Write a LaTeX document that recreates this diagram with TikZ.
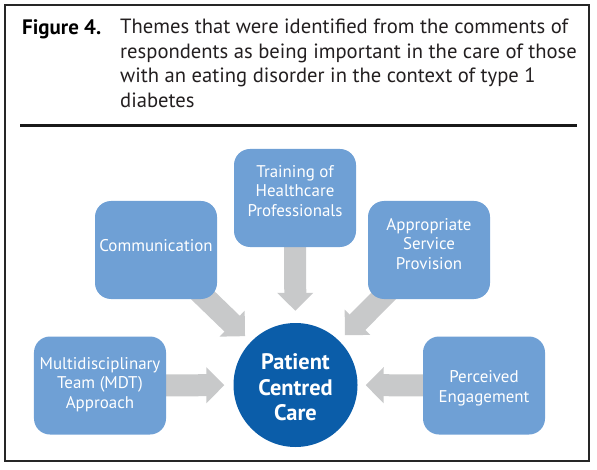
\documentclass[tikz,border=0pt]{standalone}
\usepackage{fontspec}
\setmainfont{PT Sans}
\usetikzlibrary{arrows.meta,backgrounds}
\definecolor{boxblue}{HTML}{6FA0D5}
\definecolor{circblue}{HTML}{0B5DA9}
\definecolor{arrgray}{HTML}{C8C9CA}
\definecolor{captxt}{HTML}{231F20}
\newcommand{\liftlines}[2]{\raisebox{#1}[\height][\depth]{\begin{tabular}{@{}c@{}}#2\end{tabular}}}
\tikzset{
  theme/.style={fill=boxblue, rounded corners=16bp, minimum width=122bp, minimum height=98bp,
    text=white, font=\fontsize{17}{19.7}\selectfont, inner sep=0pt},
  hub/.style={circle, fill=circblue, minimum size=124bp, text=white,
    font=\bfseries\fontsize{22.5}{25.5}\selectfont, inner sep=0pt},
  blockarrow/.style={draw=arrgray, line width=22bp,
    -{Triangle[width=35bp,length=18bp]}, arrgray},
  caption/.style={inner sep=0pt, text=captxt, font=\fontsize{20.7}{24.5}\selectfont}
}
\begin{document}
\begin{tikzpicture}[x=1bp,y=-1bp]
\useasboundingbox (0,0) rectangle (597,470);
\draw[line width=1.3bp, draw=black!85] (5,5) rectangle (589,461);
\node[caption, anchor=base west, font=\bfseries\fontsize{21}{24.5}\selectfont, text=black] (fig) at (22,35) {Figure 4.};
\node[caption, align=left, anchor=north west] (cap) at (120,19) {Themes that were identified from the comments of\\respondents as being important in the care of those\\with an eating disorder in the context of type 1\\diabetes};
\draw[line width=3bp, draw=black!90] (20,125.3) coordinate (r1) -- (577,125.3) coordinate (r2);

\node[theme] (comm) at (156,250) {\liftlines{2bp}{Communication}};
\node[theme] (train) at (295,198) {\liftlines{5bp}{Training of\\Healthcare\\Professionals}};
\node[theme] (appr) at (429,250) {\liftlines{4bp}{Appropriate\\Service\\Provision}};
\node[theme, minimum width=132bp] (mdt) at (100,385.5) {\liftlines{0.5bp}{Multidisciplinary\\Team (MDT)\\Approach}};
\node[theme] (perc) at (484,385.5) {\liftlines{-3bp}{Perceived\\Engagement}};
\node[hub] (pcc) at (295.5,385) {\liftlines{-5bp}{Patient\\Centred\\Care}};

\begin{scope}[on background layer]
\draw[blockarrow, shorten >=8bp] (comm.center) -- (pcc);
\draw[blockarrow, shorten >=8bp] (appr.center) -- (pcc);
\draw[blockarrow, shorten >=12bp] (train.center) -- (pcc);
\draw[blockarrow, shorten >=9bp] (mdt.center) -- (pcc);
\draw[blockarrow, shorten >=8bp] (perc.center) -- (pcc);
\end{scope}
\end{tikzpicture}
\end{document}
